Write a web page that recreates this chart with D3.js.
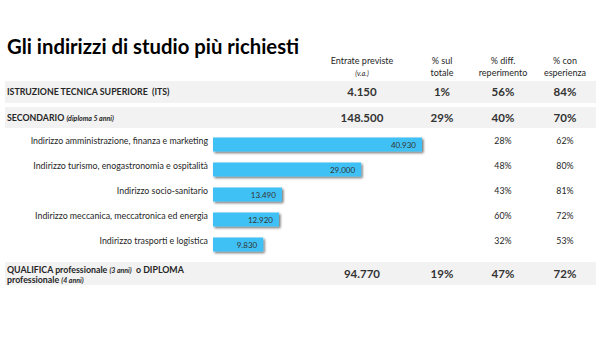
<!DOCTYPE html>
<html>
<head>
<meta charset="utf-8">
<script src="https://cdn.jsdelivr.net/npm/d3@7"></script>
<style>
  html, body { margin: 0; padding: 0; background: #fff; }
  svg { display: block; font-family: Lato, "Open Sans", sans-serif; }
  svg text { white-space: pre; }
</style>
</head>
<body>
<svg id="chart" width="600" height="337"></svg>
<script>
// Column headers (two lines each)
const columnHeaders = [
  ["Entrate previste", "(v.a.)"],
  ["% sul", "totale"],
  ["% diff.", "reperimento"],
  ["% con", "esperienza"]
];

// Summary rows (gray bands)
const groupNames = ["ISTRUZIONE TECNICA SUPERIORE  (ITS)", "SECONDARIO", "QUALIFICA professionale"];
const groupEntrate = [4150, 148500, 94770];
const groupQuota = [1, 29, 19];
const groupDifficolta = [56, 40, 47];
const groupEsperienza = [84, 70, 72];

// Detail rows under SECONDARIO
const indirizzi = [
  "Indirizzo amministrazione, finanza e marketing",
  "Indirizzo turismo, enogastronomia e ospitalità",
  "Indirizzo socio-sanitario",
  "Indirizzo meccanica, meccatronica ed energia",
  "Indirizzo trasporti e logistica"
];
const indirizziEntrate = [40930, 29000, 13490, 12920, 9830];
const indirizziDifficolta = [28, 48, 43, 60, 32];
const indirizziEsperienza = [62, 80, 81, 72, 53];

const fmt = d3.formatLocale({ decimal: ",", thousands: ".", grouping: [3], currency: ["€", ""] }).format(",d");
const pct = v => v + "%";

const svg = d3.select("#chart");
const textCol = "#262626";

// Title
svg.append("text")
  .attr("x", 7).attr("y", 54)
  .attr("font-size", 20.3).attr("font-weight", 700).attr("fill", "#000")
  .text("Gli indirizzi di studio più richiesti");

// Column positions
const colX = [362, 442, 503, 565];

// Gray bands for the summary rows
const bands = [{ y: 81, h: 22 }, { y: 107, h: 21 }, { y: 262, h: 23 }];
svg.append("g").selectAll("rect").data(bands).join("rect")
  .attr("x", 5).attr("width", 591)
  .attr("y", d => d.y).attr("height", d => d.h)
  .attr("fill", "#f2f2f2");

const hdr = svg.append("g").attr("fill", textCol).attr("text-anchor", "middle");
columnHeaders.forEach((lines, i) => {
  hdr.append("text").attr("x", colX[i]).attr("y", 64).attr("font-size", 9).text(lines[0]);
  hdr.append("text").attr("x", colX[i]).attr("y", 76)
    .attr("font-size", i === 0 ? 7 : 9)
    .attr("font-style", i === 0 ? "italic" : "normal")
    .text(lines[1]);
});

// Summary row labels
const lab = svg.append("g").attr("fill", textCol).attr("font-weight", 700).attr("font-size", 8.8);
lab.append("text").attr("x", 7).attr("y", 95).text(groupNames[0]);
const sec = lab.append("text").attr("x", 7).attr("y", 120.5);
sec.append("tspan").text(groupNames[1] + " ");
sec.append("tspan").attr("font-style", "italic").attr("font-size", 7).text("(diploma 5 anni)");
const q1 = lab.append("text").attr("x", 7).attr("y", 272.5);
q1.append("tspan").text(groupNames[2] + " ");
q1.append("tspan").attr("font-style", "italic").attr("font-size", 7).text("(3 anni)");
q1.append("tspan").text("  o DIPLOMA");
const q2 = lab.append("text").attr("x", 7).attr("y", 283);
q2.append("tspan").text("professionale ");
q2.append("tspan").attr("font-style", "italic").attr("font-size", 7).text("(4 anni)");

// Summary values
const bandBase = [96, 122, 278];
const vals = svg.append("g").attr("fill", "#333").attr("font-weight", 700).attr("font-size", 11.5).attr("text-anchor", "middle");
groupEntrate.forEach((v, i) => {
  const row = [fmt(v), pct(groupQuota[i]), pct(groupDifficolta[i]), pct(groupEsperienza[i])];
  row.forEach((t, j) => vals.append("text").attr("x", colX[j]).attr("y", bandBase[i]).text(t));
});

// Bars for the detail rows
const x = d3.scaleLinear().domain([0, 40930]).range([213, 422]);
const y = d3.scaleBand().domain(indirizzi).range([132, 257]).paddingInner(0.44).paddingOuter(0.22);

const defs = svg.append("defs");
const f = defs.append("filter").attr("id", "shadow").attr("x", "-10%").attr("y", "-30%").attr("width", "130%").attr("height", "190%");
f.append("feDropShadow").attr("dx", 1.5).attr("dy", 1.5).attr("stdDeviation", 0.9)
  .attr("flood-color", "#000").attr("flood-opacity", 0.55);

const rows = svg.append("g").selectAll("g").data(indirizzi).join("g");
rows.append("rect")
  .attr("x", x(0)).attr("y", d => y(d))
  .attr("width", (d, i) => x(indirizziEntrate[i]) - x(0))
  .attr("height", y.bandwidth())
  .attr("fill", "#41c1f5")
  .attr("filter", "url(#shadow)");
rows.append("text")
  .attr("x", (d, i) => x(indirizziEntrate[i]) - 6)
  .attr("y", d => y(d) + y.bandwidth() / 2 + 3)
  .attr("text-anchor", "end").attr("font-size", 8).attr("fill", "#333")
  .text((d, i) => fmt(indirizziEntrate[i]));
rows.append("text")
  .attr("x", 208).attr("y", d => y(d) + y.bandwidth() / 2 - 0.5)
  .attr("text-anchor", "end").attr("font-size", 8.8).attr("fill", textCol)
  .text(d => d);
rows.append("text")
  .attr("x", colX[2]).attr("y", d => y(d) + y.bandwidth() / 2 - 1)
  .attr("text-anchor", "middle").attr("font-size", 8.8).attr("fill", textCol)
  .text((d, i) => pct(indirizziDifficolta[i]));
rows.append("text")
  .attr("x", colX[3]).attr("y", d => y(d) + y.bandwidth() / 2 - 1)
  .attr("text-anchor", "middle").attr("font-size", 8.8).attr("fill", textCol)
  .text((d, i) => pct(indirizziEsperienza[i]));
</script>
</body>
</html>
